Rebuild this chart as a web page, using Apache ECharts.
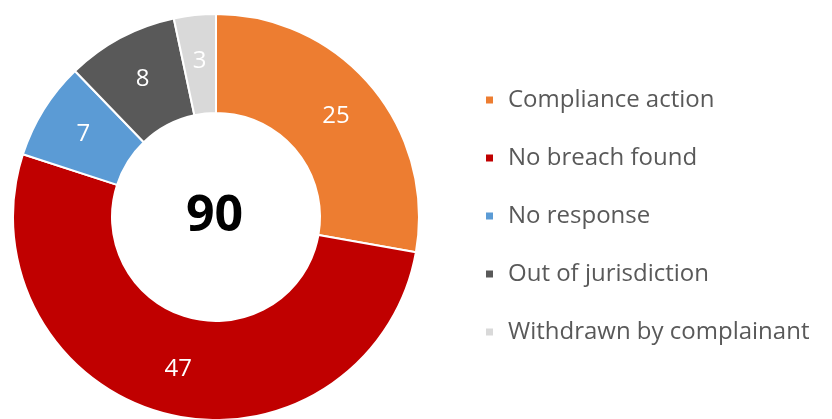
<!DOCTYPE html>
<html>
<head>
<meta charset="utf-8">
<script src="https://cdn.jsdelivr.net/npm/echarts@6/dist/echarts.min.js"></script>
<style>
  html, body { margin: 0; padding: 0; background: #fff; }
  #chart { width: 832px; height: 419px; }
</style>
</head>
<body>
<div id="chart"></div>
<script>
// outcome categories and counts
const categories = ['Compliance action', 'No breach found', 'No response', 'Out of jurisdiction', 'Withdrawn by complainant']
const counts = [25, 47, 7, 8, 3]
const colors = ['#ED7D31', '#C00000', '#5B9BD5', '#595959', '#D9D9D9']
const total = counts.reduce((a, b) => a + b, 0)

const chart = echarts.init(document.getElementById('chart'))
chart.setOption({
  animation: false,
  color: colors,
  legend: {
    orient: 'vertical',
    left: 479,
    top: 83,
    itemWidth: 9,
    itemHeight: 9,
    itemGap: 34,
    icon: 'rect',
    textStyle: { color: '#595959', fontSize: 24, fontFamily: 'Open Sans', padding: [0, 0, 0, 9] },
    data: categories
  },
  // total in the hole
  graphic: [{
    type: 'text',
    left: 216 - 30,
    top: 222 - 30,
    style: {
      text: String(total),
      font: 'bold 50px "Open Sans"',
      fill: '#000',
      x: 30, y: 30,
      align: 'center',
      verticalAlign: 'middle'
    }
  }],
  series: [{
    type: 'pie',
    center: [216, 217],
    radius: [104, 203],
    startAngle: 90,
    clockwise: true,
    avoidLabelOverlap: false,
    itemStyle: { borderColor: '#fff', borderWidth: 2 },
    label: {
      position: 'inside',
      color: '#fff',
      fontSize: 24,
      fontFamily: 'Open Sans',
      formatter: '{c}'
    },
    labelLine: { show: false },
    emphasis: { disabled: true },
    data: categories.map((name, i) => ({ name, value: counts[i] }))
  }]
})
</script>
</body>
</html>
